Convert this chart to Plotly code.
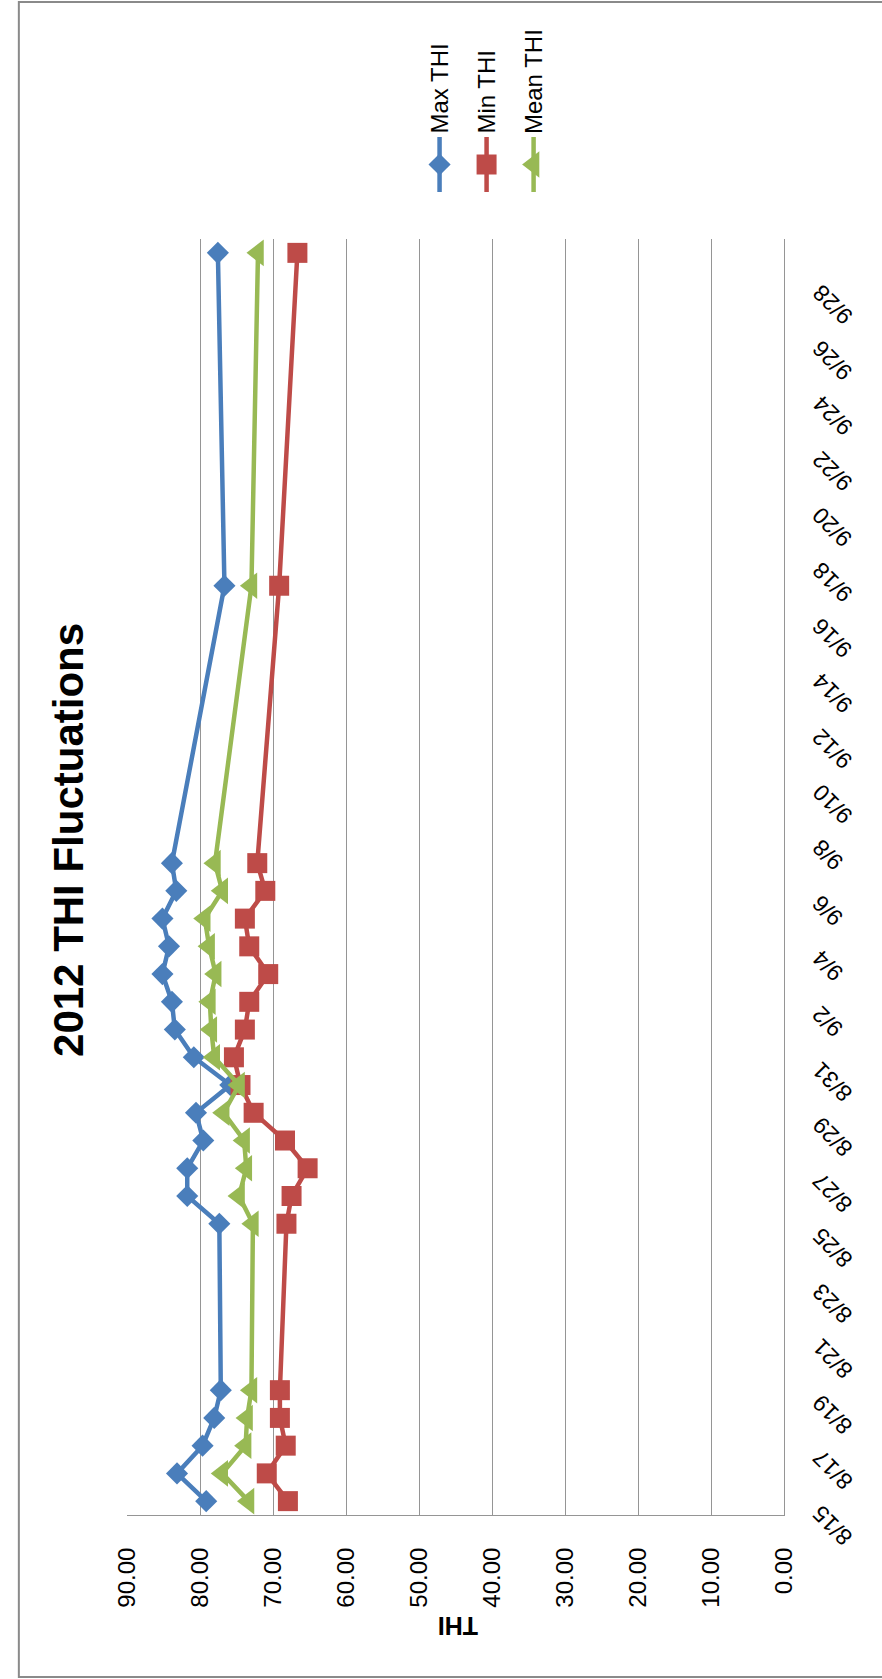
import plotly.graph_objects as go

W, H = 882, 1679

# ---- data ----
dates = ['2012-08-15', '2012-08-16', '2012-08-17', '2012-08-18', '2012-08-19',
         '2012-08-25', '2012-08-26', '2012-08-27', '2012-08-28', '2012-08-29',
         '2012-08-30', '2012-08-31', '2012-09-01', '2012-09-02', '2012-09-03',
         '2012-09-04', '2012-09-05', '2012-09-06', '2012-09-07', '2012-09-17',
         '2012-09-29']
max_thi = [79.2, 83.2, 79.7, 78.1, 77.2, 77.4, 81.8, 81.8, 79.6, 80.6, 75.9,
           80.9, 83.5, 83.9, 85.2, 84.3, 85.2, 83.3, 83.9, 76.7, 77.6]
min_thi = [68.0, 70.9, 68.3, 69.1, 69.1, 68.2, 67.5, 65.3, 68.4, 72.7, 74.5,
           75.4, 73.9, 73.3, 70.7, 73.3, 73.9, 71.1, 72.2, 69.2, 66.7]
mean_thi = [73.4, 77.0, 73.8, 73.6, 73.0, 72.8, 74.7, 73.7, 74.0, 76.8, 74.7,
            78.1, 78.5, 78.7, 77.9, 78.8, 79.4, 77.0, 78.0, 73.0, 72.1]

series_names = ['Max THI', 'Min THI', 'Mean THI']
series_colors = ['#4A7EBB', '#BE4B48', '#98B954']
series_symbols = ['diamond', 'square', 'triangle-left']
series_sizes = [17, 20, 23]

date_tick_vals = ['2012-08-15', '2012-08-17', '2012-08-19', '2012-08-21', '2012-08-23',
                  '2012-08-25', '2012-08-27', '2012-08-29', '2012-08-31', '2012-09-02',
                  '2012-09-04', '2012-09-06', '2012-09-08', '2012-09-10', '2012-09-12',
                  '2012-09-14', '2012-09-16', '2012-09-18', '2012-09-20', '2012-09-22',
                  '2012-09-24', '2012-09-26', '2012-09-28']
date_tick_text = ['8/15', '8/17', '8/19', '8/21', '8/23', '8/25', '8/27', '8/29', '8/31',
                  '9/2', '9/4', '9/6', '9/8', '9/10', '9/12', '9/14', '9/16', '9/18',
                  '9/20', '9/22', '9/24', '9/26', '9/28']

title_text = '2012 THI Fluctuations'
axis_title = 'THI'

FONT = 'Liberation Sans, Arial, sans-serif'
GRID = '#959595'

fig = go.Figure()

values = [max_thi, min_thi, mean_thi]
for name, vals, col, sym, sz in zip(series_names, values, series_colors, series_symbols, series_sizes):
    fig.add_trace(go.Scatter(
        x=vals, y=dates, name=name, mode='lines+markers',
        line=dict(color=col, width=4.5),
        marker=dict(symbol=sym, size=sz, color=col),
        xaxis='x', yaxis='y', cliponaxis=False,
    ))

# legend keys drawn on a small auxiliary axis pair (rotated legend)
key_line_y = [0, 1]
key_mark_y = [0.5]
for i, (col, sym, sz) in enumerate(zip(series_colors, series_symbols, series_sizes)):
    fig.add_trace(go.Scatter(
        x=[i, i], y=key_line_y, mode='lines',
        line=dict(color=col, width=4.5),
        xaxis='x2', yaxis='y2', hoverinfo='skip', cliponaxis=False,
    ))
    fig.add_trace(go.Scatter(
        x=[i], y=key_mark_y, mode='markers',
        marker=dict(symbol=sym, size=sz, color=col),
        xaxis='x2', yaxis='y2', hoverinfo='skip', cliponaxis=False,
    ))

annotations = []
# chart title (rotated)
annotations.append(dict(
    text='<b>' + title_text + '</b>', xref='paper', yref='paper',
    x=56.7 / W, y=1 - 840 / H, xanchor='center', yanchor='middle',
    textangle=-90, showarrow=False, font=dict(family=FONT, size=42, color='#000000')))
# value axis title (upside down)
annotations.append(dict(
    text='<b>' + axis_title + '</b>', xref='paper', yref='paper',
    x=457.5 / W, y=1 - 1626 / H, xanchor='center', yanchor='middle',
    textangle=180, showarrow=False, font=dict(family=FONT, size=25, color='#000000')))
# legend labels
legend_x = [439, 487.5, 536]
for name, lx in zip(series_names, legend_x):
    annotations.append(dict(
        text=name, xref='paper', yref='paper', x=lx / W, y=1 - 136 / H,
        xanchor='center', yanchor='bottom', textangle=-90, showarrow=False,
        font=dict(family=FONT, size=24, color='#000000')))
# date tick labels (rotated, placed on the date axis scale)
for tv, tt in zip(date_tick_vals, date_tick_text):
    annotations.append(dict(
        text=tt, xref='paper', yref='y', x=815 / W, y=tv,
        xanchor='left', yanchor='top', yshift=4, textangle=-135, showarrow=False,
        font=dict(family=FONT, size=23, color='#000000')))

fig.update_layout(
    width=W, height=H,
    margin=dict(l=0, r=0, t=0, b=0, pad=0),
    paper_bgcolor='white', plot_bgcolor='white',
    showlegend=False,
    font=dict(family=FONT, color='#000000'),
    xaxis=dict(
        domain=[117 / W, 794.3 / W], range=[90, 0], tick0=0, dtick=10,
        tickformat='.2f', tickangle=-90, showgrid=True, gridcolor=GRID, gridwidth=1,
        showline=True, linecolor=GRID, linewidth=1, zeroline=False, ticks='',
        tickfont=dict(family=FONT, size=24, color='#000000'),
        ticklabelstandoff=22, anchor='y', side='bottom', fixedrange=True),
    yaxis=dict(
        domain=[1 - 1515 / H, 1 - 239 / H], type='date',
        range=['2012-08-14 12:00', '2012-09-29 12:00'],
        showgrid=False, showline=True, linecolor=GRID, linewidth=1, side='right',
        showticklabels=False, ticks='', zeroline=False, anchor='x', fixedrange=True),
    xaxis2=dict(domain=[(439 - 24.25) / W, (536 + 24.25) / W], range=[-0.5, 2.5],
                visible=False, anchor='y2', fixedrange=True),
    yaxis2=dict(domain=[1 - 192 / H, 1 - 137 / H], range=[0, 1],
                visible=False, anchor='x2', fixedrange=True),
    annotations=annotations,
    shapes=[dict(type='rect', xref='paper', yref='paper',
                 x0=5 / W, x1=1.08, y0=1 - 1677 / H, y1=1 - 2 / H,
                 line=dict(color='#8a8a8a', width=2), fillcolor='rgba(0,0,0,0)',
                 layer='below')],
)

fig.write_html('out.html', config={'displayModeBar': False},
               post_script="document.body.style.margin='0';document.body.style.overflow='hidden';")
